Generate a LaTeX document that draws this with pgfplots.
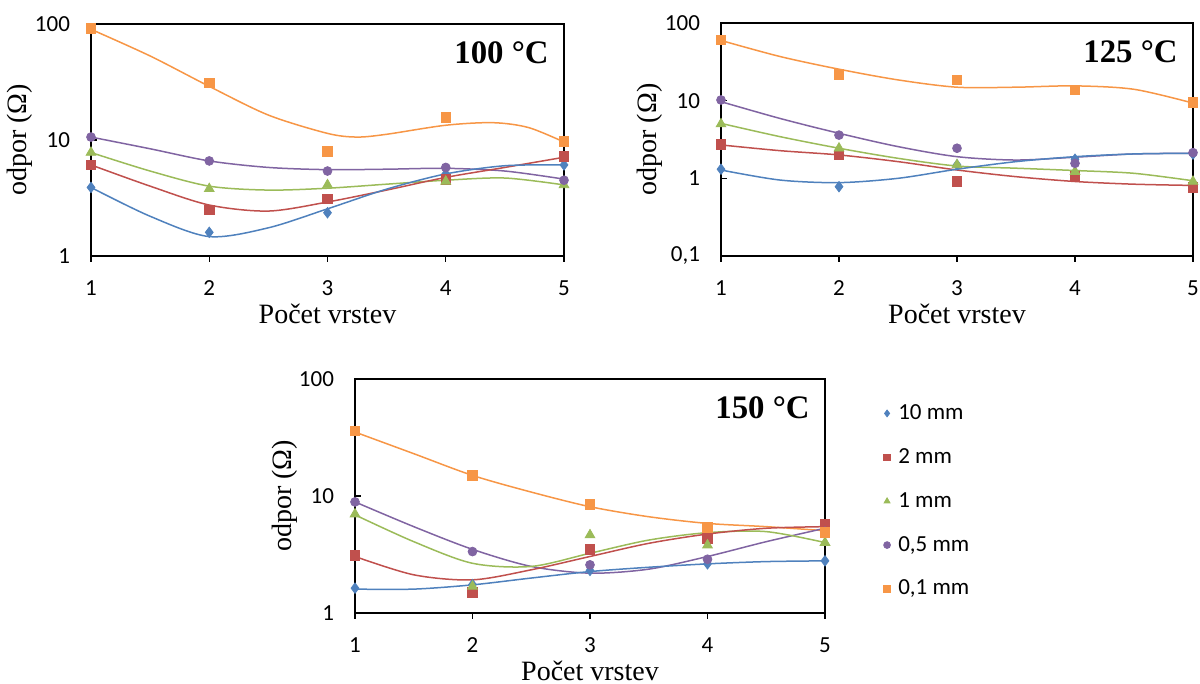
\documentclass[border=0pt]{standalone}
\usepackage{fontspec}
\setmainfont{Liberation Serif}
\newfontfamily\calibri{Carlito}
\usepackage{pgfplots}
\pgfplotsset{compat=1.18}

\definecolor{cblue}{HTML}{4F81BD}
\definecolor{cred}{HTML}{C0504D}
\definecolor{cgreen}{HTML}{9BBB59}
\definecolor{cpurple}{HTML}{8064A2}
\definecolor{corange}{HTML}{F79646}

\pgfplotsset{
  every axis/.append style={
    scale only axis,
    xmin=1, xmax=5,
    xtick={1,2,3,4,5}, xticklabels={1,2,3,4,5},
    yminorticks=false,
    xtick pos=lower, ytick pos=left,
    xtick align=outside, ytick align=inside,
    major tick length=3pt,
    tick style={black, line width=0.6pt},
    axis line style={black, line width=0.8pt},
    clip=false,
    ticklabel style={font=\calibri\fontsize{11.5}{12}\selectfont, text=black},
    xticklabel style={yshift=-6pt},
    yticklabel style={xshift=-7pt},
    label style={font=\fontsize{14}{16}\selectfont},
    xlabel={Počet vrstev}, ylabel={odpor (Ω)},
    x label style={at={(axis description cs:0.5,0)}, anchor=center, yshift=-29pt},
    y label style={at={(axis description cs:-0.15,0.5)}, anchor=center},
  },
}
\tikzset{
  trend/.style={color=#1, line width=0.75pt, smooth},
  mB/.style={only marks, mark=diamond*, mark size=2.6pt, color=cblue},
  mR/.style={only marks, mark=square*, mark size=2.4pt, color=cred},
  mG/.style={only marks, mark=triangle*, mark size=2.8pt, color=cgreen},
  mP/.style={only marks, mark=*, mark size=2.2pt, color=cpurple},
  mO/.style={only marks, mark=square*, mark size=2.4pt, color=corange},
}
\newcommand\titlenode[1]{\node[anchor=north east, inner sep=0pt,
  font=\bfseries\fontsize{16.4}{17}\selectfont, xshift=-7.5pt, yshift=-8.5pt] at (rel axis cs:1,1) {#1};}

\begin{document}
\begin{tikzpicture}
\useasboundingbox (0,0) rectangle (600pt,342pt);

% 100 C
\begin{axis}[ymode=log, at={(45.5pt,214pt)}, anchor=south west,
  width=236.5pt, height=116pt, ymin=1, ymax=100,
  ytick={1,10,100}, yticklabels={1,10,100}]
\addplot[trend=corange, no markers, forget plot] coordinates {(1,90)(1.5,53)(2,29)(2.5,16.4)(3,11.4)(3.25,10.6)(3.5,11.2)(4,13.4)(4.4,14.1)(4.7,12.8)(5,9.6)};
\addplot[trend=cpurple, no markers, forget plot] coordinates {(1,10.6)(1.5,8.4)(2,6.6)(2.5,5.8)(3,5.55)(3.5,5.6)(4,5.7)(4.5,5.4)(5,4.6)};
\addplot[trend=cgreen, no markers, forget plot] coordinates {(1,7.8)(1.5,5.4)(2,4.0)(2.5,3.7)(3,3.84)(3.5,4.16)(4,4.5)(4.5,4.7)(5,4.1)};
\addplot[trend=cred, no markers, forget plot] coordinates {(1,6.1)(1.5,4.0)(2,2.75)(2.5,2.44)(3,2.92)(3.5,3.7)(4,4.76)(4.5,5.8)(5,7.1)};
\addplot[trend=cblue, no markers, forget plot] coordinates {(1,3.9)(1.5,2.2)(2,1.47)(2.5,1.75)(3,2.55)(3.5,3.77)(4,5.1)(4.5,6.0)(5,6.1)};
\addplot[mB] coordinates {(1,3.9)(2,1.6)(3,2.36)(4,5.1)(5,6.1)};
\addplot[mR] coordinates {(1,6.1)(2,2.5)(3,3.1)(4,4.6)(5,7.2)};
\addplot[mG] coordinates {(1,7.8)(2,3.8)(3,4.1)(4,4.4)(5,4.1)};
\addplot[mP] coordinates {(1,10.6)(2,6.6)(3,5.4)(4,5.8)(5,4.5)};
\addplot[mO] coordinates {(1,92)(2,31)(3,8.0)(4,15.6)(5,9.7)};
\titlenode{100 °C}
\end{axis}

% 125 C
\begin{axis}[ymode=log, at={(360.5pt,214pt)}, anchor=south west,
  width=236pt, height=116.5pt, ymin=0.1, ymax=100,
  ytick={0.1,1,10,100}, yticklabels={{0,1},1,10,100}]
\addplot[trend=corange, no markers, forget plot] coordinates {(1,59.6)(1.5,37)(2,25.4)(2.5,18.5)(3,14.9)(3.5,14.9)(4,15.5)(4.5,14.0)(5,9.3)};
\addplot[trend=cpurple, no markers, forget plot] coordinates {(1,9.7)(1.5,5.9)(2,3.8)(2.5,2.56)(3,1.9)(3.5,1.72)(4,1.87)(4.5,2.06)(5,2.1)};
\addplot[trend=cgreen, no markers, forget plot] coordinates {(1,5.1)(1.5,3.44)(2,2.44)(2.5,1.81)(3,1.44)(3.5,1.35)(4,1.26)(4.5,1.16)(5,0.93)};
\addplot[trend=cred, no markers, forget plot] coordinates {(1,2.69)(1.5,2.27)(2,2.0)(2.5,1.64)(3,1.28)(3.5,1.05)(4,0.91)(4.5,0.84)(5,0.81)};
\addplot[trend=cblue, no markers, forget plot] coordinates {(1,1.28)(1.5,0.95)(2,0.88)(2.5,1.0)(3,1.31)(3.5,1.64)(4,1.9)(4.5,2.06)(5,2.1)};
\addplot[mB] coordinates {(1,1.31)(2,0.78)(3,1.49)(4,1.76)(5,2.05)};
\addplot[mR] coordinates {(1,2.74)(2,2.0)(3,0.92)(4,1.07)(5,0.77)};
\addplot[mG] coordinates {(1,5.0)(2,2.44)(3,1.49)(4,1.22)(5,0.91)};
\addplot[mP] coordinates {(1,10.2)(2,3.6)(3,2.44)(4,1.56)(5,2.14)};
\addplot[mO] coordinates {(1,60.7)(2,21.9)(3,18.5)(4,13.8)(5,9.5)};
\titlenode{125 °C}
\end{axis}

% 150 C
\begin{axis}[ymode=log, at={(177.5pt,35.5pt)}, anchor=south west,
  width=235pt, height=117pt, ymin=1, ymax=100,
  ytick={1,10,100}, yticklabels={1,10,100},
  legend style={at={(1.124,0.91)}, anchor=north west, draw=none, fill=none,
    font=\calibri\fontsize{11.5}{12}\selectfont, row sep=9pt,
    inner sep=0pt, cells={anchor=west}},
  legend image code/.code={\draw[#1, mark size=1.7pt] plot coordinates {(0.1cm,0cm)};
    \path (0.1cm,0cm) ++(3.4pt,0pt);},
  legend cell align=left]
\addplot[trend=corange, no markers, forget plot] coordinates {(1,35.2)(1.5,23)(2,15)(2.5,10.8)(3,8.1)(3.5,6.65)(4,5.83)(4.5,5.47)(5,5.05)};
\addplot[trend=cpurple, no markers, forget plot] coordinates {(1,8.9)(1.5,5.47)(2,3.5)(2.5,2.5)(3,2.19)(3.5,2.37)(4,3.04)(4.5,4.07)(5,5.3)};
\addplot[trend=cgreen, no markers, forget plot] coordinates {(1,6.9)(1.5,4.07)(2,2.66)(2.5,2.5)(3,3.24)(3.5,4.2)(4,4.86)(4.5,4.96)(5,4.0)};
\addplot[trend=cred, no markers, forget plot] coordinates {(1,3.04)(1.5,2.12)(2,1.92)(2.5,2.34)(3,3.04)(3.5,3.94)(4,4.73)(4.5,5.3)(5,5.47)};
\addplot[trend=cblue, no markers, forget plot] coordinates {(1,1.6)(1.5,1.6)(2,1.74)(2.5,1.99)(3,2.26)(3.5,2.46)(4,2.63)(4.5,2.75)(5,2.79)};
\addplot[mB] coordinates {(1,1.63)(2,1.75)(3,2.31)(4,2.63)(5,2.79)};
\addplot[mR] coordinates {(1,3.1)(2,1.5)(3,3.5)(4,4.35)(5,5.76)};
\addplot[mG] coordinates {(1,7.0)(2,1.69)(3,4.64)(4,3.8)(5,4.0)};
\addplot[mP] coordinates {(1,8.9)(2,3.35)(3,2.58)(4,2.88)(5,5.0)};
\addplot[mO] coordinates {(1,35.9)(2,15.0)(3,8.5)(4,5.4)(5,4.9)};
\legend{10 mm, 2 mm, 1 mm, {0,5 mm}, {0,1 mm}}
\titlenode{150 °C}
\end{axis}
\end{tikzpicture}
\end{document}
